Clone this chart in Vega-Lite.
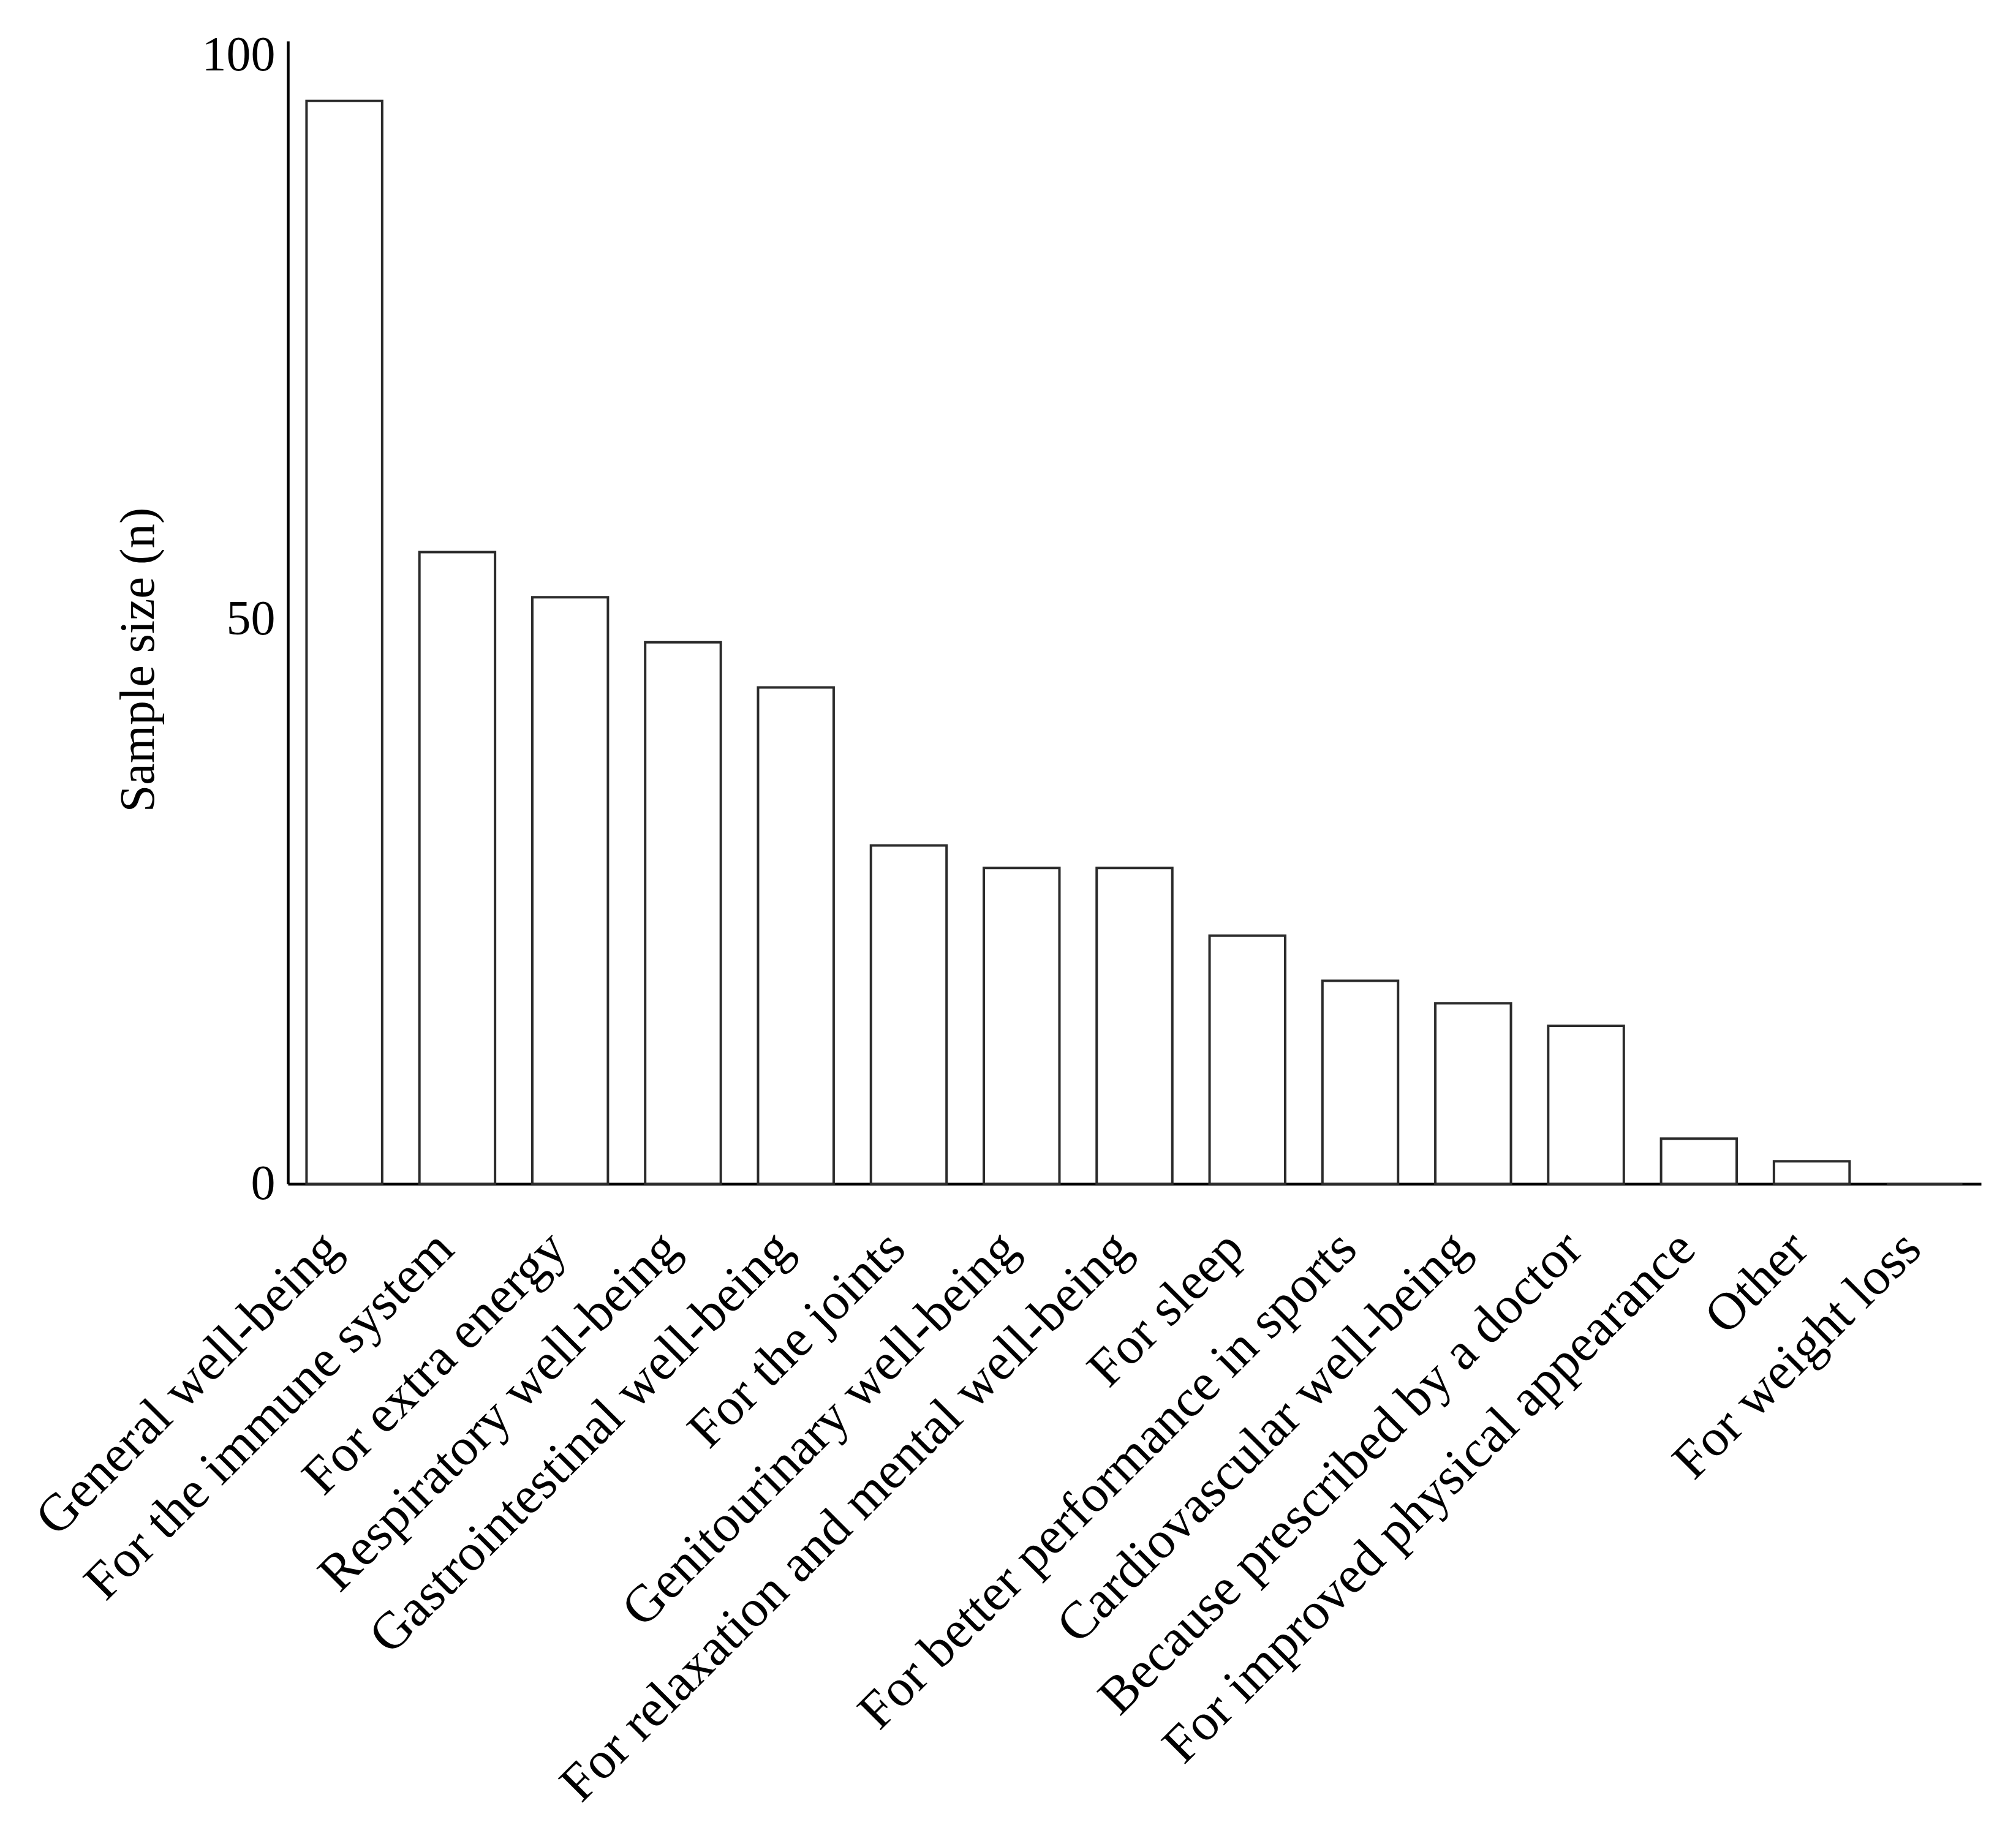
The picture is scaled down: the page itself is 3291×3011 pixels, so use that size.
{
  "$schema": "https://vega.github.io/schema/vega-lite/v6.json",
  "width": 2764,
  "height": 1866,
  "autosize": {"type": "none"},
  "padding": {"left": 470, "top": 67, "right": 57, "bottom": 1078},
  "background": "white",
  "config": {
    "view": {"stroke": null},
    "font": "Liberation Serif"
  },
  "data": {
    "values": [
      {"reason": "General well-being", "n": 96},
      {"reason": "For the immune system", "n": 56},
      {"reason": "For extra energy", "n": 52},
      {"reason": "Respiratory well-being", "n": 48},
      {"reason": "Gastrointestinal well-being", "n": 44},
      {"reason": "For the joints", "n": 30},
      {"reason": "Genitourinary well-being", "n": 28},
      {"reason": "For relaxation and mental well-being", "n": 28},
      {"reason": "For sleep", "n": 22},
      {"reason": "For better performance in sports", "n": 18},
      {"reason": "Cardiovascular well-being", "n": 16},
      {"reason": "Because prescribed by a doctor", "n": 14},
      {"reason": "For improved physical appearance", "n": 4},
      {"reason": "Other", "n": 2},
      {"reason": "For weight loss", "n": 0}
    ]
  },
  "mark": {"type": "bar", "fill": "white", "stroke": "#2b2b2b", "strokeWidth": 4},
  "encoding": {
    "x": {
      "field": "reason",
      "type": "nominal",
      "sort": null,
      "scale": {"paddingInner": 0.33, "paddingOuter": 0.165},
      "axis": {
        "title": null,
        "labelAngle": -45,
        "labelAlign": "right",
        "labelBaseline": "middle",
        "labelFont": "Liberation Serif",
        "labelFontSize": 86,
        "labelColor": "black",
        "labelPadding": 92,
        "labelOffset": -20,
        "labelLimit": 0,
        "ticks": false,
        "domainColor": "black",
        "domainWidth": 4.5
      }
    },
    "y": {
      "field": "n",
      "type": "quantitative",
      "scale": {"domain": [0, 101.3], "nice": false, "zero": true},
      "axis": {
        "title": "Sample size (n)",
        "titleFont": "Liberation Serif",
        "titleFontSize": 80,
        "titleFontWeight": "normal",
        "titleColor": "black",
        "titleAngle": -90,
        "titleAlign": "center",
        "titleBaseline": "middle",
        "titleX": -244,
        "titleY": 1010,
        "values": [0, 50, 100],
        "labelFont": "Liberation Serif",
        "labelFontSize": 80,
        "labelColor": "black",
        "labelPadding": 21,
        "ticks": false,
        "grid": false,
        "domainColor": "black",
        "domainWidth": 4.5
      }
    }
  }
}
